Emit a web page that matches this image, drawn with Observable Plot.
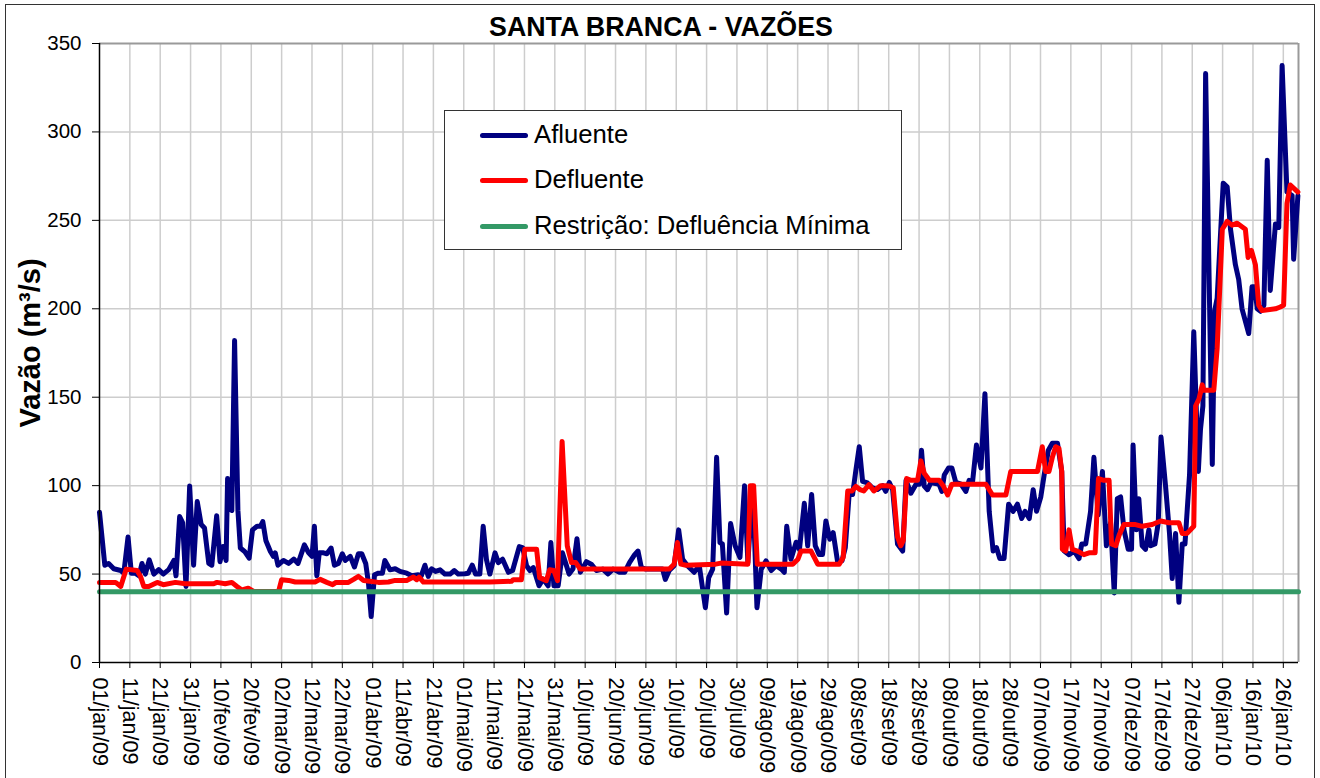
<!DOCTYPE html>
<html>
<head>
<meta charset="utf-8">
<script src="https://cdn.jsdelivr.net/npm/d3@7"></script>
<script src="https://cdn.jsdelivr.net/npm/@observablehq/plot@0.6"></script>
<style>
  body { margin: 0; background: #fff; font-family: "Liberation Sans", Arial, sans-serif; }
  #wrap { position: relative; width: 1320px; height: 778px; overflow: hidden; background: #fff; }
  #chart { position: absolute; left: 0; top: 0; }
  #title { position: absolute; left: 0; width: 1322px; top: 14px; text-align: center; font-weight: bold; font-size: 26.8px; line-height: 1; color: #000; }
  #ylabel { position: absolute; left: 30px; top: 343px; transform: translate(-50%, -50%) rotate(-90deg); font-weight: bold; font-size: 29px; line-height: 1; white-space: nowrap; color: #000; }
  #legend { position: absolute; left: 444px; top: 110px; width: 458px; height: 140px; border: 1.5px solid #333; box-sizing: border-box; background: #fff; }
  .lg-line { position: absolute; left: 35px; width: 48px; height: 5px; border-radius: 2.5px; }
  .lg-text { position: absolute; left: 89px; font-size: 25.7px; line-height: 1; white-space: nowrap; color: #000; }
  #frame { position: absolute; left: 5px; top: 4px; width: 1310px; height: 820px; border: 1.5px solid #333; box-sizing: border-box; pointer-events: none; }
</style>
</head>
<body>
<div id="wrap">
  <div id="chart"></div>
  <div id="title">SANTA BRANCA - VAZÕES</div>
  <div id="ylabel">Vazão (m³/s)</div>
  <div id="legend"></div>
  <div id="frame"></div>
</div>
<script>
// ---- Data (day offset from 01/jan/2009, flow in m³/s) ----
const afluenteDays = [0,1.75,3,4.7,7,8,9.4,10.5,11.8,13,14,15.1,16.4,17.9,19.5,21,22.8,24.5,25.2,26.4,27.4,28.5,29.7,31,32.2,33.5,34.6,36,37,38.6,39.7,40.7,41.7,42.2,42.8,43.6,44.5,45.6,46.4,47.8,49.3,50.4,51.9,53,53.8,54.8,56.3,57.3,57.9,58.8,60.6,62.3,64,65.4,67.5,68.9,70,70.8,71.6,72.4,73.8,74.9,76.3,77.4,78.7,80,81,82.6,84,85.3,86.4,87.7,88.6,89.5,90.6,91.9,93.2,94,95.7,97.4,99,101.2,102.9,105,106,107.2,108.3,109.4,110.7,112.2,113.8,115.5,116.9,118.2,120.4,121.5,122.8,123.9,125.3,126.4,127.5,128.6,130.3,131.4,132.8,134.7,136.1,138.3,139.4,140.7,141.8,142.9,144.8,146.2,147.8,148.7,149.7,151.1,152.5,154.7,156,157.3,158.4,160.4,162,163.7,165.8,167.5,169.2,171.3,173,174.6,176.3,177.4,178.5,180,185.5,186.4,187.7,189.3,190.8,192.1,193.7,195.9,197.6,199.6,200.7,202,203.3,204.4,205.2,206.6,207.9,209.4,211,212.5,213.6,215.2,216.6,218,219.6,221.3,222.9,224.6,225.6,226.4,227.8,229.5,230.6,232.2,233.3,234.6,235.8,237.1,238.2,239.3,240.6,241.7,243.2,244.6,245.7,247,248.1,249.2,250.3,251.4,253,254.7,256.3,258,259,260.2,261.3,262.9,264.6,265.7,267.3,269,270.1,270.8,271.7,272.8,273.9,276.6,277.5,278.3,279.7,280.8,282.1,283.8,285.4,286.5,287.6,288.9,290.4,291.7,293.1,294.4,295.5,296.6,298,299.5,301,302.4,303.8,304.9,306.3,307.6,308.7,310.1,311.2,312.6,313.9,315.6,317,317.8,319.4,321.1,322.7,323.6,324.9,326.5,327.6,329,330.4,331.7,333.1,334.3,335.3,336.4,337.5,338.9,340,340.5,341.6,342.4,343.5,344.6,345.7,346.3,347.7,348.8,349.7,351.2,352.5,353.4,354.5,355.6,356.7,357.6,359.1,360.5,362,362.7,363.5,364.4,366.6,367.4,368.2,370.2,371.5,372.6,374.2,375.3,376.4,378.6,379.7,380.6,381.4,382.5,383.6,384.7,385.7,387.4,388.5,389.6,391.2,392.9,393.4,394.8];
const afluenteValues = [85,55,56,53,52,50.5,71,50.5,50.5,49,56,50,58,50,52.5,50,52.5,57.7,49,82.5,79,43,99.8,55,91,78,76,56,55,83,57,65.6,57.7,104,87,86,182,86,64.7,62.8,59,75,77,77,79.7,69,62.8,60,62,55,57.7,56,58.5,56,66.5,62,60,77,49,62,62,61.5,64.7,55,56,61.5,57.7,60,54,61.5,61.5,56,45,26,49.6,50.5,50.5,57.7,52.4,53,51.5,50.5,49,49.6,49,55,48.7,53,51.5,52.4,50,50,52,50,50.2,50.5,55,50,50,77,58,50,62,56.5,58.4,51,52,65.5,65,54.7,52,53.7,43.4,47.2,43.4,67.8,43.4,43.4,62,50,53,70,51,57,55.6,52,52.8,50,52.8,51,51,56.5,61,63,53.7,52.8,52.8,47,52,54.7,75,58.4,54.7,51,54.7,31,48,52.8,116,67.8,67,28,78.6,66,59.4,100,56.5,99.6,31,52.8,57.5,52,54.7,52.8,51,77,58.4,68,64,90,66,95,66,61,61,80,69.7,73.4,56.5,57.5,65,96,95,109,122,102.4,101.5,98.7,97.8,100,96.8,101.8,97.7,67,63,103,95.7,100.8,100.8,120,99.8,97.7,101.8,100.8,96.7,106,110,110,101.8,100.8,96.7,103,101.8,123,110,152,85.5,63,65,58.8,58.8,89.5,85.5,89.5,81.4,85.5,81.4,97.7,85.5,93.6,106,120,124,124,108,63,61,63,58.8,67,67,85.5,116,83.4,108,66,79,39.3,92.6,93.6,75,64,64,123,75,92.6,66,64,75,66,67,79,127.5,99.8,73,47.5,73,34,67,67,106,187,108,131.6,145,333,112,199,206,271,269,245,225,216.6,200,186,212.5,212.5,200,198.6,202,284,210.4,248,246,337.5,266,264,228,264];

const defluenteDays = [0,5.3,7,8.8,12.4,13.5,14.6,16.2,19,21,25,28.3,37.6,38.7,41.4,43.6,45.3,46.9,49,50.8,59,60,62.3,64.5,71,72.7,74.9,76.8,77.9,82,83.7,85.3,87,91.9,95.2,97.4,101.2,103.4,104.5,105.3,106.7,128.6,135.7,136.3,139,140.1,144,145,147.2,148.3,149.7,150.9,152.4,154.1,155.5,156.9,158.4,187.7,189.3,190.4,191.5,193.2,203,204.7,213.6,214.4,215.5,216.7,228.4,230.1,231.1,234.4,236.6,243.7,245,246.5,247.9,249.2,250.5,251.8,253.5,255.1,257.3,259,260.2,261.5,262.9,264,264.8,265.9,267.3,269.5,270.6,271.7,273.4,276.6,278,279.4,280.8,292,294.2,298.6,300.2,309,310.6,311.7,312.8,313.9,315,316.1,317,317.2,318.3,319.4,320.5,322.2,324.3,326,328,329.1,330.9,332.6,333.4,334.8,335.9,337.5,341.3,343.5,346.8,349.6,352.3,355.6,356.7,358.3,360.5,361.1,362.2,363.3,363.8,367.1,368.2,369.9,371.5,373.1,374.8,377.5,378.4,379.5,380.8,381.9,383,387.4,389,390.1,391.2,392.3,394.8];
const defluenteValues = [45.3,45.3,43,52.8,52,48.7,43,43,45.3,44,45.3,44.5,44.5,45.3,44.5,45.3,43,41,42,40.2,40.2,46.8,46.4,45.5,45.5,47,45.3,44,45.3,45.3,47,48.7,46.4,45.3,45.5,46.4,46.4,48.3,46.8,48.3,45.5,45.5,45.9,46.8,46.8,64,64,48,46.3,52.4,52,46.3,125,66,56.5,56.5,52.8,52.8,55.6,67.8,55.6,55,55.6,56.2,55.6,100,100,55.6,55.6,58.4,63,63,55.6,55.6,59.4,97,97,99.6,97.8,97,100.6,97,100,100,99.8,98.8,71,66,69,104,103,103,114,107,103,103,99.8,94.7,100.8,100.8,94.7,94.7,108,108,122,108,108,116,122,121,108,64,63,75,64,63,61,62,62,104,103,103,67,66,72,78,78,77,78,80,79,79,73,73,77,145,149,157,154,154,177.7,245,249.4,247.3,248.4,245,229,233,225,202,199,200,201,202,259.6,270,266];

const restricaoDays = [0, 395];
const restricaoValues = [40, 40];

const tickLabels = ["01/jan/09","11/jan/09","21/jan/09","31/jan/09","10/fev/09","20/fev/09","02/mar/09","12/mar/09","22/mar/09","01/abr/09","11/abr/09","21/abr/09","01/mai/09","11/mai/09","21/mai/09","31/mai/09","10/jun/09","20/jun/09","30/jun/09","10/jul/09","20/jul/09","30/jul/09","09/ago/09","19/ago/09","29/ago/09","08/set/09","18/set/09","28/set/09","08/out/09","18/out/09","28/out/09","07/nov/09","17/nov/09","27/nov/09","07/dez/09","17/dez/09","27/dez/09","06/jan/10","16/jan/10","26/jan/10"];
const yTicks = [0, 50, 100, 150, 200, 250, 300, 350];

const seriesNames = ["Afluente", "Defluente", "Restrição: Defluência Mínima"];
const seriesColors = ["#000080", "#ff0000", "#339966"];

// ---- Build ----
const DAY = 864e5, T0 = Date.UTC(2009, 0, 1);
const toDate = d => new Date(T0 + d * DAY);
const rows = (days, vals) => days.map((d, i) => ({date: toDate(d), value: vals[i]}));
const afl = rows(afluenteDays, afluenteValues);
const def = rows(defluenteDays, defluenteValues);
const res = rows(restricaoDays, restricaoValues);
const tickDates = tickLabels.map((_, i) => toDate(i * 10));
const xDomain = [toDate(0), toDate(395)];
const fmt = d => tickLabels[Math.round((d - T0) / DAY / 10)];
const FONT = '"Liberation Sans", Arial, sans-serif';

const chart = Plot.plot({
  width: 1320, height: 778,
  marginLeft: 99, marginRight: 22, marginTop: 43, marginBottom: 116,
  style: {fontFamily: FONT, color: "#000", background: "transparent", overflow: "visible"},
  x: {type: "utc", domain: xDomain},
  y: {domain: [0, 350]},
  marks: [
    Plot.gridY(yTicks.filter(v => v > 0 && v < 350), {stroke: "#cdcdcd", strokeOpacity: 1, strokeWidth: 1.5}),
    Plot.gridX(tickDates.slice(1), {stroke: "#cdcdcd", strokeOpacity: 1, strokeWidth: 1.5}),
    Plot.ruleY([350], {stroke: "#9a9a9a", strokeWidth: 2}),
    Plot.ruleX([xDomain[1]], {stroke: "#9a9a9a", strokeWidth: 2}),
    Plot.line(afl, {x: "date", y: "value", stroke: seriesColors[0], strokeWidth: 5, strokeLinejoin: "round", strokeLinecap: "round"}),
    Plot.line(def, {x: "date", y: "value", stroke: seriesColors[1], strokeWidth: 5, strokeLinejoin: "round", strokeLinecap: "round"}),
    Plot.line(res, {x: "date", y: "value", stroke: seriesColors[2], strokeWidth: 5}),
    Plot.ruleX([xDomain[0]], {stroke: "#000", strokeWidth: 1.5}),
    Plot.ruleY([0], {stroke: "#000", strokeWidth: 1.5}),
    Plot.axisY(yTicks, {tickSize: 7, tickPadding: 11, fontSize: 20.5, label: null}),
    Plot.axisX(tickDates, {tickRotate: 90, tickSize: 6, tickPadding: 9, fontSize: 21.5, tickFormat: fmt, label: null})
  ]
});
document.getElementById("chart").appendChild(chart);

// ---- Legend ----
const legend = document.getElementById("legend");
const centers = [24, 69, 115];
seriesNames.forEach((name, i) => {
  const ln = document.createElement("div");
  ln.className = "lg-line";
  ln.style.top = (centers[i] - 2.5) + "px";
  ln.style.background = seriesColors[i];
  legend.appendChild(ln);
  const tx = document.createElement("div");
  tx.className = "lg-text";
  tx.style.top = (centers[i] - 12.8) + "px";
  tx.textContent = name;
  legend.appendChild(tx);
});
</script>
</body>
</html>
